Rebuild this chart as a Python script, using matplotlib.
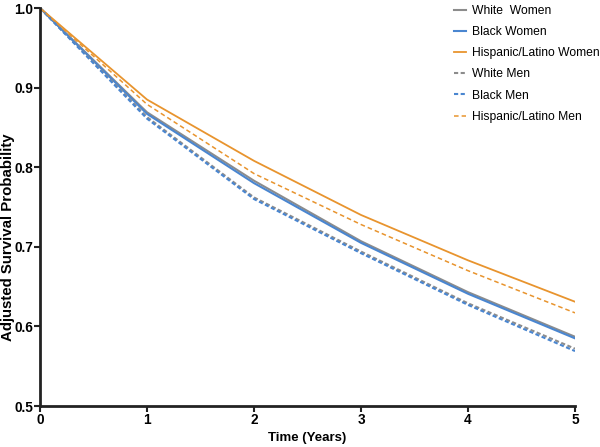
import matplotlib.pyplot as plt
import numpy as np

plt.rcParams['font.family'] = ['Liberation Sans', 'DejaVu Sans']
plt.rcParams['font.weight'] = 'bold'

years = [0, 1, 2, 3, 4, 5]
white_women = [1.0, 0.869, 0.783, 0.707, 0.643, 0.587]
black_women = [1.0, 0.867, 0.780, 0.705, 0.641, 0.585]
hisp_women = [1.0, 0.885, 0.808, 0.740, 0.683, 0.631]
white_men = [1.0, 0.863, 0.762, 0.694, 0.629, 0.572]
black_men = [1.0, 0.861, 0.760, 0.692, 0.627, 0.569]
hisp_men = [1.0, 0.879, 0.792, 0.728, 0.670, 0.617]

GRAY = '#8c8c8c'
BLUE = '#4a86d0'
ORANGE = '#e8942e'

fig = plt.figure(figsize=(6, 4.47), dpi=100)
ax = fig.add_axes([40 / 600, 41 / 447, 535 / 600, 398 / 447])

ax.plot(years, white_women, color=GRAY, lw=1.5, label='White  Women')
ax.plot(years, black_women, color=BLUE, lw=1.5, label='Black Women')
ax.plot(years, hisp_women, color=ORANGE, lw=1.3, label='Hispanic/Latino Women')
ax.plot(years, white_men, color=GRAY, lw=1.5, ls=(0, (2, 1.2)), label='White Men')
ax.plot(years, black_men, color=BLUE, lw=1.5, ls=(0, (2, 1.2)), label='Black Men')
ax.plot(years, hisp_men, color=ORANGE, lw=1.1, ls=(0, (3, 2)), label='Hispanic/Latino Men')

ax.set_xlim(0, 5)
ax.set_ylim(0.5, 1.0)
ax.set_xticks(years)
ax.set_yticks([0.5, 0.6, 0.7, 0.8, 0.9, 1.0])
ax.set_yticklabels(['0.5', '0.6', '0.7', '0.8', '0.9', '1.0'])
ax.tick_params(axis='both', width=1.5, length=4, labelsize=9.8, color='#222222')
ax.tick_params(axis='x', pad=1)
ax.tick_params(axis='y', pad=1)
for lab in ax.get_xticklabels() + ax.get_yticklabels():
    lab.set_fontweight('bold')

for side in ['top', 'right']:
    ax.spines[side].set_visible(False)
for side in ['left', 'bottom']:
    ax.spines[side].set_linewidth(2)
    ax.spines[side].set_color('#222222')

ax.set_xlabel('Time (Years)', fontsize=9.5, fontweight='bold', labelpad=4)
fig.text(8 / 600, 1 - 237 / 447, 'Adjusted Survival Probability', rotation=90,
         ha='center', va='center', fontsize=10.8, fontweight='bold')

leg = ax.legend(loc='upper right', bbox_to_anchor=(1.067, 1.035), frameon=False,
                fontsize=8.7, handlelength=1.0, labelspacing=0.76, handletextpad=0.5)
for t in leg.get_texts():
    t.set_fontweight('normal')

fig.savefig('out.png', dpi=100)
